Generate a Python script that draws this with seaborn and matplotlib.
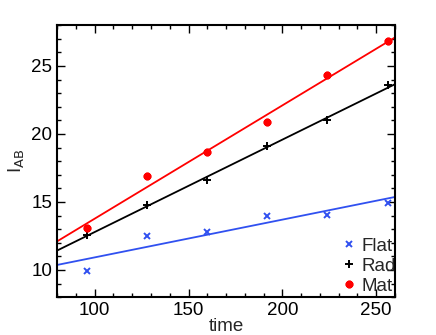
import matplotlib
matplotlib.use("Agg")
import matplotlib.pyplot as plt
import seaborn as sns
import numpy as np
import pandas as pd
from matplotlib.ticker import MultipleLocator

sns.set_theme(style="ticks")
plt.rcParams['font.family'] = ['Liberation Sans Narrow', 'Liberation Sans', 'DejaVu Sans']
plt.rcParams['mathtext.fontset'] = 'custom'
plt.rcParams['mathtext.rm'] = 'Liberation Sans Narrow'
plt.rcParams['mathtext.it'] = 'Liberation Sans Narrow'

time = [96, 128, 160, 192, 224, 256]
flat = [9.9, 12.5, 12.8, 14.0, 14.05, 14.95]
rad = [12.6, 14.8, 16.6, 19.1, 21.0, 23.6]
mat = [13.05, 16.9, 18.65, 20.85, 24.35, 26.8]
series = ["Flat", "Rad", "Mat"]
colors = {"Flat": "#3050f0", "Rad": "black", "Mat": "#ff0000"}
markers = {"Flat": "x", "Rad": "+", "Mat": (8, 2, 0)}

df = pd.DataFrame({"time": time * 3,
                   "val": flat + rad + mat,
                   "series": ["Flat"] * 6 + ["Rad"] * 6 + ["Mat"] * 6})

fig = plt.figure(figsize=(4.36, 3.35), dpi=100)
ax = fig.add_axes([0.131, 0.113, 0.775, 0.812])
ax.set_xlim(80, 260)
ax.set_ylim(8, 28)

for s in series:
    sub = df[df.series == s]
    sns.regplot(data=sub, x="time", y="val", ax=ax, scatter=False, ci=None,
                truncate=False, color=colors[s], line_kws={"lw": 1.3})
for s in series:
    sub = df[df.series == s]
    ms = {"Flat": 5, "Rad": 6, "Mat": 5.5}[s]
    mew = {"Flat": 1.4, "Rad": 1.4, "Mat": 1.9}[s]
    ax.plot(sub.time, sub.val, linestyle="none", marker=markers[s], color=colors[s],
            markersize=ms, markeredgewidth=mew, label=s)
ax.set_xlim(80, 260)
ax.set_ylim(8, 28)

ax.xaxis.set_major_locator(MultipleLocator(50))
ax.xaxis.set_minor_locator(MultipleLocator(10))
ax.yaxis.set_major_locator(MultipleLocator(5))
ax.yaxis.set_minor_locator(MultipleLocator(1))
ax.tick_params(which="both", direction="in", top=True, right=True, labelsize=13.5, colors="black")
ax.tick_params(which="major", length=6, width=1)
ax.tick_params(which="minor", length=3, width=1)
for sp in ax.spines.values():
    sp.set_linewidth(1.5)
    sp.set_color("black")

ax.set_xlabel("time", fontsize=13.5, labelpad=-1)
ax.set_ylabel(r"I$_{\rm AB}$", fontsize=13.5, labelpad=3)

leg = ax.legend(loc="lower right", bbox_to_anchor=(1.015, -0.005), frameon=False,
                fontsize=13.5, handlelength=0.5, handletextpad=0.45,
                labelspacing=0.15, borderaxespad=0.0, borderpad=0.2)

fig.savefig("out.png", dpi=100)
